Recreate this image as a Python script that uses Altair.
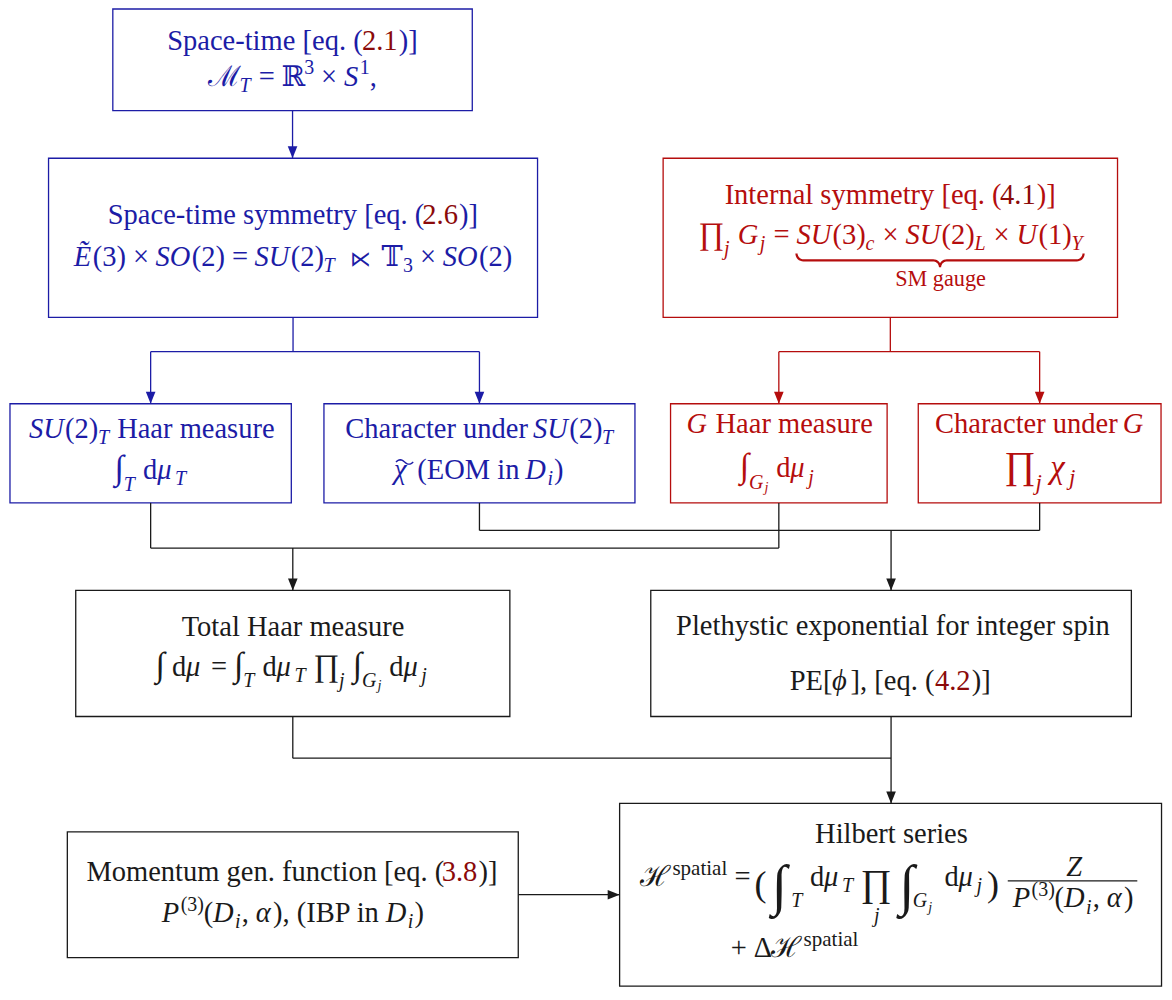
import math
import altair as alt
import pandas as pd

FONT = "Liberation Serif, DejaVu Serif, serif"
F = 28.5          # base text size
SUB = 0.7         # script size factor

BLUE = "#1c1ca6"
RED = "#b50d0d"
DRED = "#8b0a0a"
BLACK = "#1a1a1a"

# ---------------- boxes (reference frame, y grows downward) ----------------
box_id  = ["spacetime", "st_sym", "int_sym", "su2_haar", "su2_char", "g_haar",
           "g_char", "total_haar", "pe", "momentum", "hilbert"]
box_x0  = [111.0, 46.0, 667.5, 7.0, 324.5, 675.0, 925.5, 73.5, 655.0, 65.0, 623.5]
box_y0  = [1.0, 153.0, 153.0, 403.0, 403.0, 403.0, 403.0, 593.0, 593.0, 839.0, 810.0]
box_x1  = [474.5, 540.5, 1127.0, 291.5, 639.0, 894.0, 1171.0, 512.5, 1141.0, 521.0, 1171.5]
box_y1  = [104.5, 315.0, 315.0, 504.0, 504.0, 504.0, 504.0, 721.5, 721.5, 967.0, 996.0]
box_col = [BLUE, BLUE, RED, BLUE, BLUE, RED, RED, BLACK, BLACK, BLACK, BLACK]

# junction levels of the connector buses
bus_split = 350.0
bus_haar = 550.0
bus_char = 532.0
bus_final = 764.0

def cx(b): return (box_x0[b] + box_x1[b]) / 2
def cy(b): return (box_y0[b] + box_y1[b]) / 2
def top(b): return box_y0[b]
def bot(b): return box_y1[b]

segs, arrows_down, arrows_right = [], [], []
def seg(x, y, x2, y2, col):
    segs.append(dict(x=x, y=y, x2=x2, y2=y2, col=col))

seg(cx(0), bot(0), cx(0), top(1), BLUE); arrows_down.append((cx(0), top(1), BLUE))
seg(cx(1), bot(1), cx(1), bus_split, BLUE)
seg(cx(3), bus_split, cx(4), bus_split, BLUE)
for b in (3, 4):
    seg(cx(b), bus_split, cx(b), top(b), BLUE); arrows_down.append((cx(b), top(b), BLUE))
seg(cx(2), bot(2), cx(2), bus_split, RED)
seg(cx(5), bus_split, cx(6), bus_split, RED)
for b in (5, 6):
    seg(cx(b), bus_split, cx(b), top(b), RED); arrows_down.append((cx(b), top(b), RED))
seg(cx(3), bot(3), cx(3), bus_haar, BLACK)
seg(cx(5), bot(5), cx(5), bus_haar, BLACK)
seg(cx(3), bus_haar, cx(5), bus_haar, BLACK)
seg(cx(7), bus_haar, cx(7), top(7), BLACK); arrows_down.append((cx(7), top(7), BLACK))
seg(cx(4), bot(4), cx(4), bus_char, BLACK)
seg(cx(6), bot(6), cx(6), bus_char, BLACK)
seg(cx(4), bus_char, cx(6), bus_char, BLACK)
seg(cx(8), bus_char, cx(8), top(8), BLACK); arrows_down.append((cx(8), top(8), BLACK))
seg(cx(7), bot(7), cx(7), bus_final, BLACK)
seg(cx(7), bus_final, cx(8), bus_final, BLACK)
seg(cx(8), bot(8), cx(8), top(10), BLACK); arrows_down.append((cx(8), top(10), BLACK))
seg(box_x1[9], cy(9), box_x0[10], cy(9), BLACK); arrows_right.append((box_x0[10], cy(9), BLACK))

# ---------------- text metrics (Times-compatible advance widths) ----------------
ROMAN = {}
for chars, w in [(" ", 250), ("()[]", 333), (",.", 250), ("-", 333), ("0123456789", 500),
                 ("=×+", 564), ("A", 722), ("B", 667), ("C", 667), ("D", 722), ("E", 611),
                 ("F", 556), ("G", 722), ("H", 722), ("I", 333), ("J", 389), ("K", 722),
                 ("L", 611), ("M", 889), ("N", 722), ("O", 722), ("P", 556), ("Q", 722),
                 ("R", 667), ("S", 556), ("T", 611), ("U", 722), ("V", 722), ("W", 944),
                 ("X", 722), ("Y", 722), ("Z", 611), ("a", 444), ("b", 500), ("c", 444),
                 ("d", 500), ("e", 444), ("f", 333), ("g", 500), ("h", 500), ("i", 278),
                 ("j", 278), ("k", 500), ("l", 278), ("m", 778), ("n", 500), ("o", 500),
                 ("p", 500), ("q", 500), ("r", 333), ("s", 389), ("t", 278), ("u", 500),
                 ("v", 500), ("w", 722), ("x", 500), ("y", 500), ("z", 444), ("∫", 274),
                 ("∏", 823), ("Δ", 612), ("μ", 576), ("ℋ", 1120), ("ℳ", 1120), ("ℝ", 800),
                 ("𝕋", 760), ("⋉", 838), ("ϕ", 600), ("α", 550), ("χ", 520)]:
    for c in chars:
        ROMAN[c] = w / 1000
ITAL = dict(ROMAN)
for chars, w in [("S", 500), ("U", 722), ("O", 722), ("G", 722), ("T", 556), ("EẼ", 611),
                 ("D", 722), ("P", 611), ("Z", 556), ("L", 556), ("Y", 556), ("c", 444),
                 ("i", 278), ("j", 278)]:
    for c in chars:
        ITAL[c] = w / 1000

def char_w(ch, it):
    return (ITAL if it else ROMAN).get(ch, 0.5)

STYLE = {"r": (False, 1.0, 0.0), "i": (True, 1.0, 0.0),
         "rs": (False, SUB, 0.22), "is": (True, SUB, 0.22),
         "rS": (False, SUB, -0.40), "iS": (True, SUB, -0.40),
         "il": (True, SUB, 0.40), "iss": (True, 0.5, 0.52)}

rows = []
def place(parts, base, cx=None, left=None, col=BLACK, size=F):
    items = []
    for p in parts:
        text, sty = p[0], p[1]
        c = p[2] if len(p) > 2 and p[2] else col
        mult = p[3] if len(p) > 3 else 1.0
        it, k, dy = STYLE[sty]
        fs = size * k * mult
        w = sum(char_w(ch, it) for ch in text) * fs
        pad = 1.5 if c != col else 0.0        # breathing room around reference numbers
        if it:
            w += 0.06 * fs                     # italic correction
        items.append((text, it, fs, dy * size, c, w + 2 * pad, pad))
    total = sum(i[5] for i in items)
    x = left if left is not None else cx - total / 2
    spans = []
    for text, it, fs, dy, c, w, pad in items:
        lead = len(text) - len(text.lstrip(" "))
        core = text.strip(" ")
        if core:
            rows.append(dict(x=x + pad + lead * char_w(" ", it) * fs, y=base + dy, t=core,
                             size=fs, col=c, it=it))
        spans.append((x + pad, x + w - pad))
        x += w
    return spans

BIGOP = 1.2   # inline integral / product size
tildes = []   # wide tildes drawn as curves: (x0, x1, y, colour)

# box 1
place([("Space-time [eq. (", "r"), ("2.1", "r", DRED), (")]", "r")], 43, cx=292.5, col=BLUE)
place([("ℳ", "r"), ("T", "is"), (" = ", "r"), ("ℝ", "r"), ("3", "rS"), (" × ", "r"),
       ("S", "i"), ("1", "rS"), (",", "r")], 79, cx=292.5, col=BLUE)
# box 2
place([("Space-time symmetry [eq. (", "r"), ("2.6", "r", DRED), (")]", "r")], 220, cx=293, col=BLUE)
place([("Ẽ", "i"), ("(3) × ", "r"), ("SO", "i"), ("(2) = ", "r"), ("SU", "i"), ("(2)", "r"),
       ("T", "is"), ("  ", "r"), ("⋉", "r", None, 0.75), ("  ", "r"), ("𝕋", "r"), ("3", "rs"),
       (" × ", "r"), ("SO", "i"), ("(2)", "r")], 263, cx=293, col=BLUE)
# box 3
place([("Internal symmetry [eq. (", "r"), ("4.1", "r", DRED), (")]", "r")], 200, cx=897, col=RED)
sp3 = place([("∏", "r", None, 1.1), ("j", "il"), (" ", "r"), ("G", "i"), ("j", "is"), (" = ", "r"),
             ("SU", "i"), ("(3)", "r"), ("c", "is"), (" × ", "r"), ("SU", "i"), ("(2)", "r"),
             ("L", "is"), (" × ", "r"), ("U", "i"), ("(1)", "r"), ("Y", "is")], 240, cx=898, col=RED)
brace_x0, brace_x1 = sp3[6][0], sp3[-1][1]
place([("SM gauge", "r")], 283, cx=(brace_x0 + brace_x1) / 2, col=RED, size=F * 0.78)
# box 4
place([("SU", "i"), ("(2)", "r"), ("T", "is"), (" Haar measure", "r")], 438, cx=149.5, col=BLUE)
place([("∫", "r", None, BIGOP), ("T", "il"), (" d", "r"), ("μ", "i"), ("T", "is")], 480,
      cx=149.5, col=BLUE)
# box 5
place([("Character under ", "r"), ("SU", "i"), ("(2)", "r"), ("T", "is")], 438, cx=482, col=BLUE)
sp5 = place([("χ", "i"), (" (EOM in ", "r"), ("D", "i"), ("i", "is"), (")", "r")], 480,
            cx=481, col=BLUE)
tildes.append((sp5[0][0] + 2, sp5[0][1] + 3, 480 - 0.62 * F, BLUE))
# box 6
place([("G", "i"), (" Haar measure", "r")], 433, cx=784.5, col=RED)
place([("∫", "r", None, BIGOP), ("G", "il"), ("j", "iss"), (" d", "r"), ("μ", "i"), ("j", "is")],
      478, cx=783, col=RED)
# box 7
place([("Character under ", "r"), ("G", "i")], 433, cx=1048.5, col=RED)
place([("∏", "r", None, 1.35), ("j", "il", None, 1.15), (" ", "r"), ("χ", "i", None, 1.15),
       ("j", "is", None, 1.15)], 479, cx=1049, col=RED)
# box 8
place([("Total Haar measure", "r")], 640, cx=293)
place([("∫", "r", None, BIGOP), (" d", "r"), ("μ", "i"), (" = ", "r"), ("∫", "r", None, BIGOP),
       ("T", "il"), (" d", "r"), ("μ", "i"), ("T", "is"), (" ", "r"), ("∏", "r", None, 1.1),
       ("j", "il"), (" ", "r"), ("∫", "r", None, BIGOP), ("G", "il"), ("j", "iss"), (" d", "r"),
       ("μ", "i"), ("j", "is")], 680, cx=292)
# box 9
place([("Plethystic exponential for integer spin", "r")], 639, cx=897.5)
place([("PE[", "r"), ("ϕ", "i"), ("], [eq. (", "r"), ("4.2", "r", DRED), (")]", "r")], 695, cx=897)
# box 10
place([("Momentum gen. function [eq. (", "r"), ("3.8", "r", DRED), (")]", "r")], 889, cx=292)
place([("P", "i"), ("(3)", "rS"), ("(", "r"), ("D", "i"), ("i", "is"), (", ", "r"), ("α", "i"),
       ("), (IBP in ", "r"), ("D", "i"), ("i", "is"), (")", "r")], 931, cx=293)
# box 11
SS = F * SUB
place([("Hilbert series", "r")], 850, cx=897.5)
h1 = place([("ℋ", "r")], 894, left=644)
sp_h = place([("spatial", "r")], 883, left=h1[-1][1] + 1, size=21)
place([("=", "r")], 894, left=max(739, sp_h[-1][1] + 8))
place([("(", "r")], 904, left=760, size=36)
place([("∫", "r")], 912, left=777, size=56)
place([("T", "i")], 916, left=797, size=SS)
place([("d", "r"), ("μ", "i"), ("T", "is")], 894, left=816)
place([("∏", "r")], 904, left=867, size=38)
place([("j", "i")], 931, cx=884, size=SS)
place([("∫", "r")], 912, left=906, size=56)
place([("G", "i"), ("j", "is")], 916, left=920, size=SS)
place([("d", "r"), ("μ", "i"), ("j", "is")], 894, left=952)
place([(")", "r")], 904, left=995, size=36)
place([("Z", "i")], 884, cx=1084)
den = place([("P", "i"), ("(3)", "rS"), ("(", "r"), ("D", "i"), ("i", "is"), (", ", "r"),
             ("α", "i"), (")", "r")], 916, cx=1082)
frac_x0, frac_x1, frac_y = min(1016, den[0][0] - 2), max(1147, den[-1][1] + 2), 889
hp = place([("+ ", "r"), ("Δ", "r"), ("ℋ", "r")], 966, left=736)
place([("spatial", "r")], 955, left=hp[-1][1] + 1, size=21)

# ---------------- brace under the SM gauge group ----------------
def brace(x0, x1, yt, r=7.0, n=8):
    xm = (x0 + x1) / 2
    pts = []
    for k in range(n + 1):
        a = math.pi - (math.pi / 2) * k / n
        pts.append((x0 + r + r * math.cos(a), yt + r * math.sin(a)))
    for k in range(n + 1):
        a = -math.pi / 2 + (math.pi / 2) * k / n
        pts.append((xm - r + r * math.cos(a), yt + 2 * r + r * math.sin(a)))
    for k in range(n + 1):
        a = math.pi + (math.pi / 2) * k / n
        pts.append((xm + r + r * math.cos(a), yt + 2 * r + r * math.sin(a)))
    for k in range(n + 1):
        a = math.pi / 2 - (math.pi / 2) * k / n
        pts.append((x1 - r + r * math.cos(a), yt + r * math.sin(a)))
    return pd.DataFrame([dict(x=p[0], y=p[1], i=j) for j, p in enumerate(pts)])

brace_df = brace(brace_x0, brace_x1, 250)

def tilde_curve(x0, x1, yc, amp=2.2, n=16):
    return [dict(x=x0 + (x1 - x0) * k / n, y=yc - amp * math.sin(2 * math.pi * k / n), i=k)
            for k in range(n + 1)]

tilde_rows = []
for t_i, (a, b, yc, c) in enumerate(tildes):
    for r in tilde_curve(a, b, yc):
        r["g"] = t_i
        r["col"] = c
        tilde_rows.append(r)
tilde_df = pd.DataFrame(tilde_rows)

# ---------------- chart ----------------
XS = alt.Scale(domain=[5, 1174], nice=False, zero=False)
YS = alt.Scale(domain=[0, 998], nice=False, zero=False, reverse=True)
def ex(): return alt.X("x:Q", scale=XS, axis=None)
def ey(): return alt.Y("y:Q", scale=YS, axis=None)

boxes = pd.DataFrame(dict(x=box_x0, x2=box_x1, y=box_y0, y2=box_y1, col=box_col))
rect = alt.Chart(boxes).mark_rect(fill="white", strokeWidth=1.3).encode(
    x=ex(), x2="x2:Q", y=ey(), y2="y2:Q", stroke=alt.Stroke("col:N", scale=None))

rules = alt.Chart(pd.DataFrame(segs)).mark_rule(strokeWidth=1.3).encode(
    x=ex(), x2="x2:Q", y=ey(), y2="y2:Q", color=alt.Color("col:N", scale=None))

AH = 6.0
down_df = pd.DataFrame([dict(x=a[0], y=a[1] - AH, col=a[2]) for a in arrows_down])
right_df = pd.DataFrame([dict(x=a[0] - AH, y=a[1], col=a[2]) for a in arrows_right])
adown = alt.Chart(down_df).mark_point(shape="M-0.8,-1L0.8,-1L0,1Z", filled=True, size=144,
                                     opacity=1).encode(x=ex(), y=ey(),
                                                       color=alt.Color("col:N", scale=None))
aright = alt.Chart(right_df).mark_point(shape="M-1,-0.8L1,0L-1,0.8Z", filled=True, size=144,
                                       opacity=1).encode(x=ex(), y=ey(),
                                                         color=alt.Color("col:N", scale=None))

brace_l = alt.Chart(brace_df).mark_line(strokeWidth=2.2, color=RED).encode(
    x=ex(), y=ey(), order="i:Q")

tilde_l = alt.Chart(tilde_df).mark_line(strokeWidth=1.4).encode(
    x=ex(), y=ey(), order="i:Q", detail="g:N", color=alt.Color("col:N", scale=None))

frac = alt.Chart(pd.DataFrame([dict(x=frac_x0, x2=frac_x1, y=frac_y)])).mark_rule(
    strokeWidth=1.3, color=BLACK).encode(x=ex(), x2="x2:Q", y=ey())

tdf = pd.DataFrame(rows)
def text_layer(df, italic):
    mk = dict(align="left", baseline="alphabetic", font=FONT)
    if italic:
        mk["fontStyle"] = "italic"
    return alt.Chart(df).mark_text(**mk).encode(
        x=ex(), y=ey(), text="t:N", size=alt.Size("size:Q", scale=None),
        color=alt.Color("col:N", scale=None))

t_rom = text_layer(tdf[~tdf["it"]].drop(columns="it"), False)
t_it = text_layer(tdf[tdf["it"]].drop(columns="it"), True)

chart = alt.layer(rect, rules, adown, aright, brace_l, tilde_l, frac, t_rom, t_it).properties(
    width=1156, height=980, autosize=alt.AutoSizeParams(type="none"), padding=0,
    background="white").configure_view(strokeWidth=0)

chart.save("out.html", embed_options={"renderer": "svg", "actions": False})
